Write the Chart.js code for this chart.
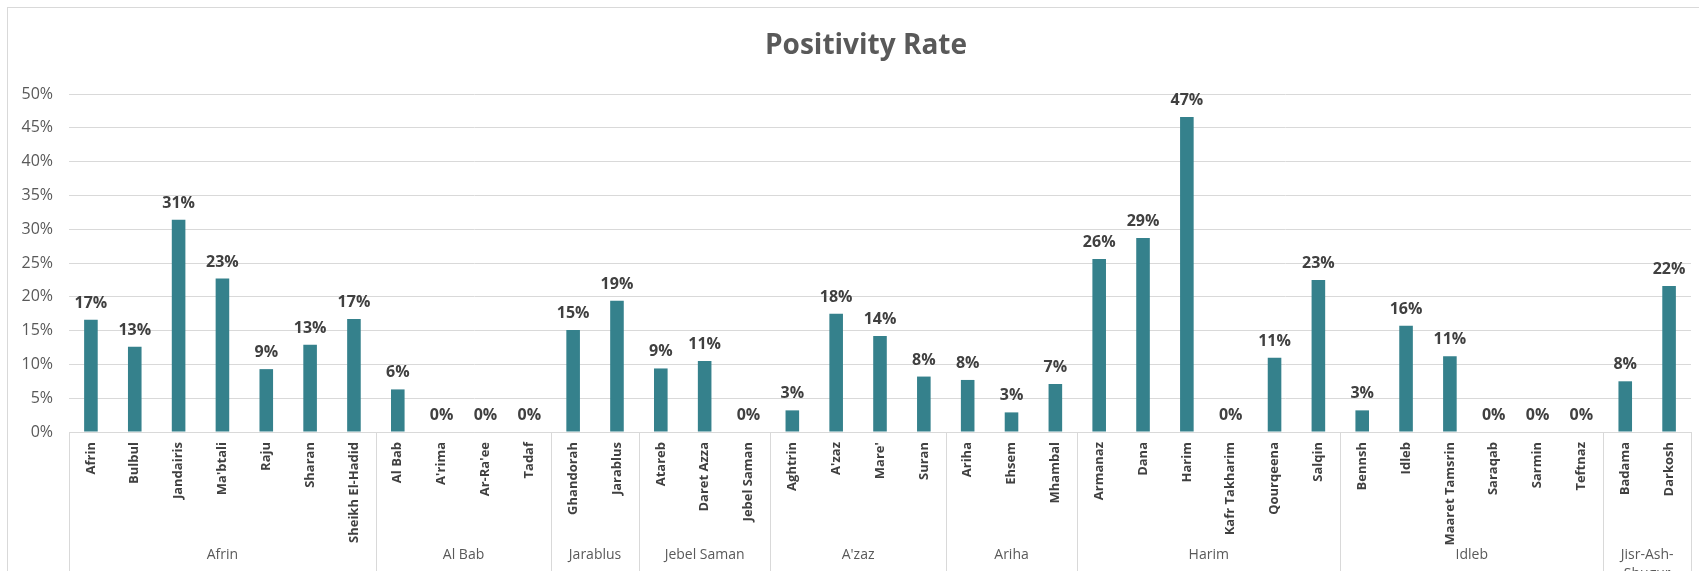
<!DOCTYPE html>
<html>
<head>
<meta charset="utf-8">
<title>Positivity Rate</title>
<script src="https://cdn.jsdelivr.net/npm/chart.js@4"></script>
<style>
  html, body { margin: 0; padding: 0; background: #fff; overflow: hidden; }
  #chart { display: block; }
</style>
</head>
<body>
<canvas id="chart" width="1699" height="571"></canvas>
<script>
const sites = [
  "Afrin", "Bulbul", "Jandairis", "Ma'btali", "Raju", "Sharan", "Sheikh El-Hadid",
  "Al Bab", "A'rima", "Ar-Ra'ee", "Tadaf",
  "Ghandorah", "Jarablus",
  "Atareb", "Daret Azza", "Jebel Saman",
  "Aghtrin", "A'zaz", "Mare'", "Suran",
  "Ariha", "Ehsem", "Mhambal",
  "Armanaz", "Dana", "Harim", "Kafr Takharim", "Qourqeena", "Salqin",
  "Bennsh", "Idleb", "Maaret Tamsrin", "Saraqab", "Sarmin", "Teftnaz",
  "Badama", "Darkosh"
];

// positivity rate per site, in percent
const positivity = [
  16.6, 12.6, 31.4, 22.7, 9.3, 12.9, 16.7,
  6.3, 0, 0, 0,
  15.1, 19.4,
  9.4, 10.5, 0,
  3.2, 17.5, 14.2, 8.2,
  7.7, 2.9, 7.1,
  25.6, 28.7, 46.6, 0, 11.0, 22.5,
  3.2, 15.7, 11.2, 0, 0, 0,
  7.5, 21.6
];

const districts = ["Afrin", "Al Bab", "Jarablus", "Jebel Saman", "A'zaz", "Ariha", "Harim", "Idleb", "Jisr-Ash-Shugur"];
const districtSizes = [7, 4, 2, 3, 4, 3, 6, 6, 2];

const yMax = 50;
const yStep = 5;

const FONT = "'Open Sans', 'Noto Sans', sans-serif";
const GRID = '#d9d9d9';

// split a label at hyphens/spaces so it fits the given width
function wrapLabel(ctx, text, maxWidth) {
  const parts = text.match(/[^\s-]+[-\s]?/g) || [text];
  const lines = [];
  let cur = '';
  parts.forEach(p => {
    const test = cur + p;
    if (cur && ctx.measureText(test.trim()).width > maxWidth) {
      lines.push(cur.trim());
      cur = p;
    } else {
      cur = test;
    }
  });
  if (cur) lines.push(cur.trim());
  return lines;
}

const framePlugin = {
  id: 'frame',
  beforeDraw(chart) {
    const ctx = chart.ctx;
    ctx.save();
    ctx.strokeStyle = GRID;
    ctx.lineWidth = 1;
    ctx.strokeRect(7.5, 7.5, chart.width + 40, chart.height + 40);
    // chart title
    ctx.fillStyle = '#595959';
    ctx.font = `bold 28px ${FONT}`;
    ctx.textAlign = 'center';
    ctx.textBaseline = 'middle';
    ctx.fillText('Positivity Rate', 866, 46);
    ctx.restore();
  }
};

const valueLabels = {
  id: 'valueLabels',
  afterDatasetsDraw(chart) {
    const ctx = chart.ctx;
    const meta = chart.getDatasetMeta(0);
    ctx.save();
    ctx.fillStyle = '#404040';
    ctx.font = `bold 16px ${FONT}`;
    ctx.textAlign = 'center';
    ctx.textBaseline = 'alphabetic';
    meta.data.forEach((bar, i) => {
      ctx.fillText(Math.round(positivity[i]) + '%', bar.x, bar.y - 12);
    });
    ctx.restore();
  }
};

// district grouping under the site labels
const districtAxis = {
  id: 'districtAxis',
  afterDraw(chart) {
    const ctx = chart.ctx;
    const xs = chart.scales.x;
    const top = chart.chartArea.bottom;
    const step = xs.width / sites.length;
    ctx.save();
    ctx.strokeStyle = GRID;
    ctx.lineWidth = 1;
    ctx.font = `14px ${FONT}`;
    ctx.fillStyle = '#595959';
    ctx.textAlign = 'center';
    ctx.textBaseline = 'middle';

    let start = 0;
    const edges = [xs.left];
    districts.forEach((name, g) => {
      const left = xs.left + start * step;
      const right = xs.left + (start + districtSizes[g]) * step;
      edges.push(right);
      const lines = wrapLabel(ctx, name, right - left - 10);
      lines.forEach((ln, k) => ctx.fillText(ln, (left + right) / 2, 555 + k * 19));
      start += districtSizes[g];
    });

    edges.forEach(x => {
      const px = Math.round(x) + 0.5;
      ctx.beginPath();
      ctx.moveTo(px, top);
      ctx.lineTo(px, chart.height);
      ctx.stroke();
    });
    ctx.restore();
  }
};

new Chart(document.getElementById('chart'), {
  type: 'bar',
  data: {
    labels: sites,
    datasets: [{
      label: 'Positivity Rate',
      data: positivity,
      backgroundColor: '#35818c',
      barPercentage: 0.31,
      categoryPercentage: 1.0
    }]
  },
  options: {
    responsive: false,
    animation: false,
    devicePixelRatio: 1,
    layout: { padding: { top: 94, right: 8, left: 0, bottom: 0 } },
    plugins: {
      legend: { display: false },
      title: { display: false },
      tooltip: { enabled: false }
    },
    scales: {
      x: {
        grid: { display: false, drawTicks: false },
        border: { display: true, color: GRID, width: 1 },
        ticks: {
          autoSkip: false,
          maxRotation: 90,
          minRotation: 90,
          padding: 10,
          color: '#404040',
          font: { family: FONT, size: 13, weight: 'bold' }
        },
        afterFit(scale) { scale.height = 139; }
      },
      y: {
        min: 0,
        max: yMax,
        grid: { color: GRID, lineWidth: 1, drawTicks: false },
        border: { display: false },
        ticks: {
          stepSize: yStep,
          padding: 16,
          color: '#595959',
          font: { family: FONT, size: 16 },
          callback: v => v + '%'
        },
        afterFit(scale) { scale.width = 69; }
      }
    }
  },
  plugins: [framePlugin, valueLabels, districtAxis]
});
</script>
</body>
</html>
